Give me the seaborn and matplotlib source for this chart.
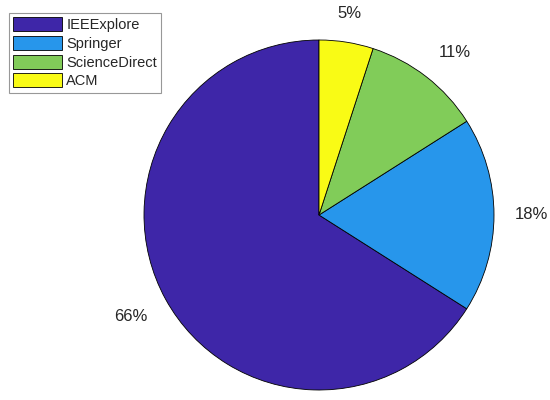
import matplotlib
matplotlib.use('Agg')
import matplotlib.pyplot as plt
import seaborn as sns
import numpy as np

sources = ['IEEExplore', 'Springer', 'ScienceDirect', 'ACM']
shares = [66, 18, 11, 5]
pct_labels = ['66%', '18%', '11%', '5%']
colors = ['#3E26A8', '#2796EB', '#81CC59', '#F9FB15']

sns.set_style('white')
plt.rcParams['font.family'] = ['Liberation Sans', 'DejaVu Sans']

fig = plt.figure(figsize=(5.5, 4), dpi=100)
# pie centred at about (319, 215) px, radius ~175 px
ax = fig.add_axes([144 / 550, 10 / 400, 350 / 550, 350 / 400])

wedges, texts = ax.pie(shares, labels=pct_labels, colors=colors,
                       startangle=90, counterclock=True,
                       labeldistance=1.12,
                       wedgeprops=dict(edgecolor='black', linewidth=0.6),
                       textprops=dict(fontsize=12, color='#262626'))
# MATLAB-like label alignment: anchor just outside the rim, aligned outward
for w, t in zip(wedges, texts):
    ang = np.deg2rad((w.theta1 + w.theta2) / 2)
    c, s = np.cos(ang), np.sin(ang)
    t.set_ha('left' if c > 0.3 else 'right' if c < -0.3 else 'center')
    t.set_va('bottom' if s > 0.3 else 'top' if s < -0.3 else 'center')
ax.set_xlim(-1, 1)
ax.set_ylim(-1, 1)
ax.set_aspect('equal')
ax.axis('off')

leg = ax.legend(wedges, sources, loc='upper left',
                bbox_to_anchor=(9 / 550, 1 - 13 / 400),
                bbox_transform=fig.transFigure, borderaxespad=0,
                fontsize=10.5, handlelength=3.35, handleheight=1.1,
                labelspacing=0.25, handletextpad=0.28, borderpad=0.3,
                fancybox=False, frameon=True)
leg.get_frame().set_edgecolor('#7f7f7f')
leg.get_frame().set_linewidth(0.8)

fig.savefig('out.png', dpi=100)
